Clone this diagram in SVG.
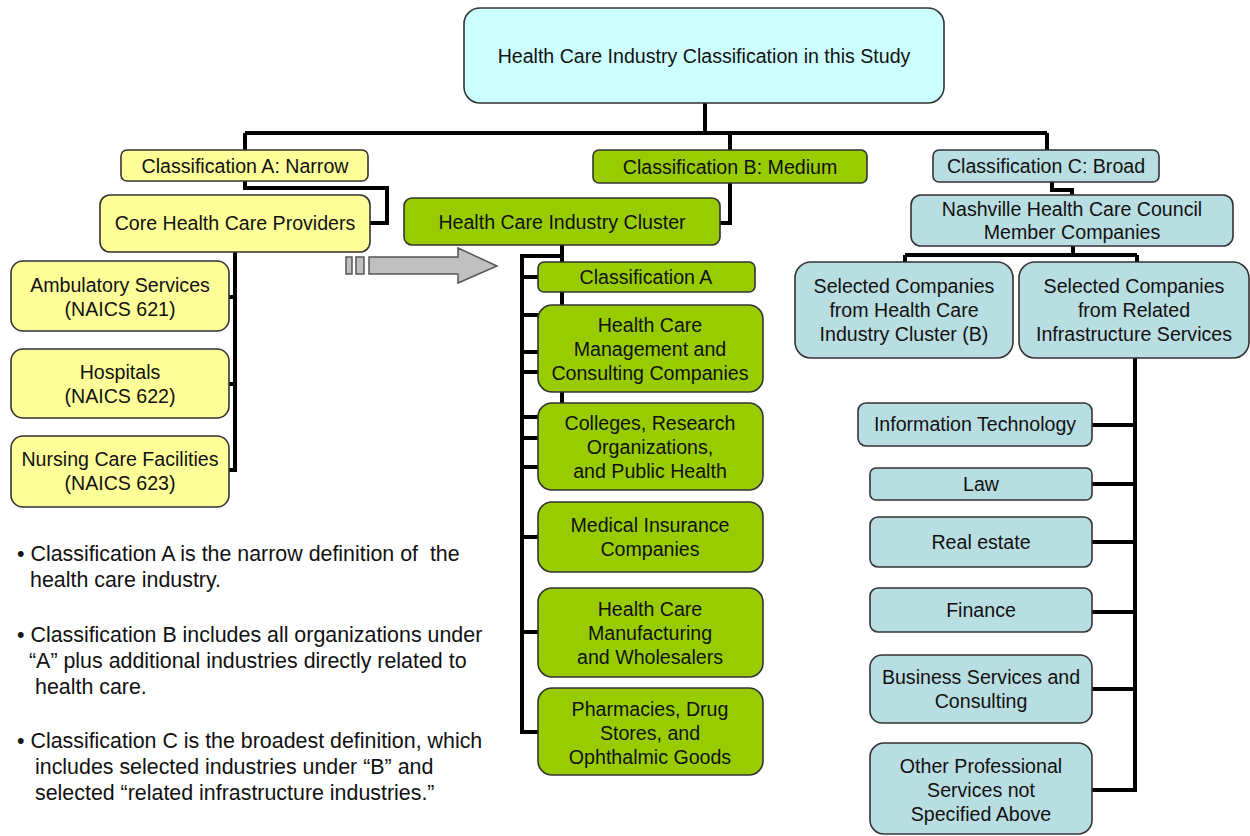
<svg xmlns="http://www.w3.org/2000/svg" width="1250" height="836" viewBox="0 0 1250 836">
<style>
text{font-family:"Liberation Sans",Arial,sans-serif;font-size:19.6px;fill:#111;text-anchor:middle}
.b{stroke:#333;stroke-width:1.6}
.top{fill:#CCFFFF}
.y{fill:#FFFF99}
.g{fill:#99CC00}
.c{fill:#B9DEE1}
.con{fill:none;stroke:#000;stroke-width:4;stroke-linejoin:miter}
.note{text-anchor:start;font-size:21.4px}
</style>
<g id="connectors" class="con">
<path d="M705,103 V133 M245,133 H1047 M245,133 V150 M730,133 V150 M1047,133 V150"/>
<path d="M245,181 V188 H387 V223 H370"/>
<path d="M235,252 V472 M229,297 H235 M229,384 H235 M229,470 H235"/>
<path d="M730,183 V223 H720"/>
<path d="M562,245 V262 M562,292 V305 M562,392 V403 M562,256 H522 V732 H538"/>
<path d="M522,277 H538 M522,315 H538 M522,352 H538 M522,372 H538 M522,417 H538 M522,438 H538 M522,467 H538 M522,537 H538 M522,632 H538"/>
<path d="M1052,182 V190 H1072 V195 M1073,246 V255 M905,255 H1137 M905,255 V262 M1137,255 V262"/>
<path d="M1135,358 V790 H1092 M1092,425 H1135 M1092,484 H1135 M1092,542 H1135 M1092,612 H1135 M1092,689 H1135"/>
</g>
<g id="arrow" fill="#C0C0C0" stroke="#555" stroke-width="1.5">
<rect x="346" y="257" width="6" height="17"/>
<rect x="356" y="257" width="8" height="17"/>
<path d="M369,257 H458 V248 L497,266 L458,283 V274 H369 Z"/>
</g>
<g id="n-top"><rect class="b top" x="464" y="8" width="480" height="95" rx="16"/><text x="704" y="63">Health Care Industry Classification in this Study</text></g>
<g id="n-classA"><rect class="b y" x="121" y="150" width="247" height="31" rx="6"/><text x="245" y="173">Classification A: Narrow</text></g>
<g id="n-core"><rect class="b y" x="100" y="195" width="270" height="57" rx="10"/><text x="235" y="230">Core Health Care Providers</text></g>
<g id="n-amb"><rect class="b y" x="11" y="261" width="218" height="70" rx="12"/><text x="120" y="292">Ambulatory Services</text><text x="120" y="316">(NAICS 621)</text></g>
<g id="n-hosp"><rect class="b y" x="11" y="349" width="218" height="69" rx="12"/><text x="120" y="379">Hospitals</text><text x="120" y="403">(NAICS 622)</text></g>
<g id="n-nurs"><rect class="b y" x="11" y="436" width="218" height="71" rx="12"/><text x="120" y="466">Nursing Care Facilities</text><text x="120" y="490">(NAICS 623)</text></g>
<g id="n-classB"><rect class="b g" x="593" y="150" width="274" height="33" rx="6"/><text x="730" y="174">Classification B: Medium</text></g>
<g id="n-cluster"><rect class="b g" x="404" y="198" width="316" height="47" rx="8"/><text x="562" y="229">Health Care Industry Cluster</text></g>
<g id="n-bA"><rect class="b g" x="538" y="262" width="217" height="30" rx="6"/><text x="646" y="284">Classification A</text></g>
<g id="n-hcm"><rect class="b g" x="538" y="305" width="225" height="87" rx="14"/><text x="650" y="332">Health Care</text><text x="650" y="356">Management and</text><text x="650" y="380">Consulting Companies</text></g>
<g id="n-col"><rect class="b g" x="538" y="403" width="225" height="87" rx="14"/><text x="650" y="430">Colleges, Research</text><text x="650" y="454">Organizations,</text><text x="650" y="478">and Public Health</text></g>
<g id="n-med"><rect class="b g" x="538" y="502" width="225" height="70" rx="14"/><text x="650" y="532">Medical Insurance</text><text x="650" y="556">Companies</text></g>
<g id="n-man"><rect class="b g" x="538" y="588" width="225" height="89" rx="14"/><text x="650" y="616">Health Care</text><text x="650" y="640">Manufacturing</text><text x="650" y="664">and Wholesalers</text></g>
<g id="n-pha"><rect class="b g" x="538" y="688" width="225" height="87" rx="14"/><text x="650" y="716">Pharmacies, Drug</text><text x="650" y="740">Stores, and</text><text x="650" y="764">Ophthalmic Goods</text></g>
<g id="n-classC"><rect class="b c" x="933" y="150" width="226" height="32" rx="6"/><text x="1046" y="173">Classification C: Broad</text></g>
<g id="n-nash"><rect class="b c" x="911" y="195" width="322" height="51" rx="10"/><text x="1072" y="216">Nashville Health Care Council</text><text x="1072" y="239">Member Companies</text></g>
<g id="n-selB"><rect class="b c" x="795" y="262" width="218" height="96" rx="16"/><text x="904" y="293">Selected Companies</text><text x="904" y="317">from Health Care</text><text x="904" y="341">Industry Cluster (B)</text></g>
<g id="n-selR"><rect class="b c" x="1019" y="262" width="230" height="96" rx="16"/><text x="1134" y="293">Selected Companies</text><text x="1134" y="317">from Related</text><text x="1134" y="341">Infrastructure Services</text></g>
<g id="n-it"><rect class="b c" x="858" y="403" width="234" height="43" rx="8"/><text x="975" y="431">Information Technology</text></g>
<g id="n-law"><rect class="b c" x="870" y="468" width="222" height="32" rx="6"/><text x="981" y="491">Law</text></g>
<g id="n-re"><rect class="b c" x="870" y="517" width="222" height="50" rx="8"/><text x="981" y="549">Real estate</text></g>
<g id="n-fin"><rect class="b c" x="870" y="588" width="222" height="44" rx="8"/><text x="981" y="617">Finance</text></g>
<g id="n-bus"><rect class="b c" x="870" y="655" width="222" height="68" rx="12"/><text x="981" y="684">Business Services and</text><text x="981" y="708">Consulting</text></g>
<g id="n-oth"><rect class="b c" x="870" y="743" width="222" height="91" rx="14"/><text x="981" y="773">Other Professional</text><text x="981" y="797">Services not</text><text x="981" y="821">Specified Above</text></g>
<g id="notes">
<text class="note" x="17" y="561">• Classification A is the narrow definition of &#160;the</text>
<text class="note" x="30" y="587">health care industry.</text>
<text class="note" x="17" y="642">• Classification B includes all organizations under</text>
<text class="note" x="29" y="668">“A” plus additional industries directly related to</text>
<text class="note" x="35" y="694">health care.</text>
<text class="note" x="17" y="748">• Classification C is the broadest definition, which</text>
<text class="note" x="35" y="774">includes selected industries under “B” and</text>
<text class="note" x="35" y="800">selected “related infrastructure industries.”</text>
</g>
</svg>
